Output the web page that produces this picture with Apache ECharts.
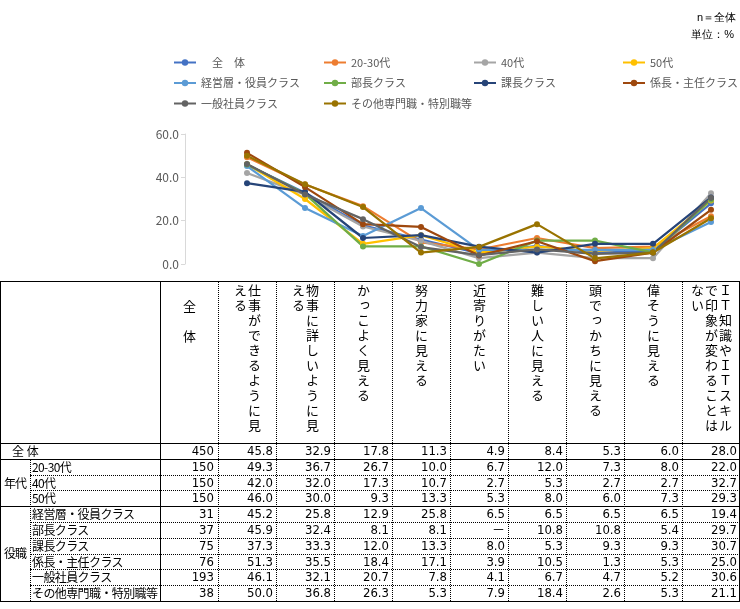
<!DOCTYPE html>
<html><head><meta charset="utf-8">
<script src="https://cdn.jsdelivr.net/npm/echarts@6/dist/echarts.min.js"></script>
<style>
html,body{margin:0;padding:0;background:#fff;width:740px;height:609px;overflow:hidden;}
#chart{position:absolute;left:0;top:0;width:740px;height:281px;}
#tbl{position:absolute;left:0;top:0;width:740px;height:609px;font-family:"Noto Sans CJK JP",sans-serif;font-size:12px;color:#000;pointer-events:none;}
#tbl div{position:absolute;box-sizing:border-box;white-space:nowrap;}
.vh{writing-mode:vertical-rl;display:inline-block;vertical-align:top;height:152px;font-size:13px;line-height:14px;letter-spacing:2px;text-align:start;white-space:normal !important;position:static !important;}
.num{text-align:right;font-family:"Liberation Sans Narrow","DejaVu Sans Condensed","Noto Sans CJK JP",sans-serif;font-size:13px;}
.lab{letter-spacing:-0.6px;}
</style>
</head><body>
<div id="chart"></div>
<div id="tbl"></div>
<script>
// ---- data ----
const questions = ['仕事ができるように見える','物事に詳しいように見える','かっこよく見える','努力家に見える','近寄りがたい','難しい人に見える','頭でっかちに見える','偉そうに見える','ＩＴ知識やＩＴスキルで印象が変わることはない'];
const nHeader = '全　体';
const legendNames = ['　全　体','20-30代','40代','50代','経営層・役員クラス','部長クラス','課長クラス','係長・主任クラス','一般社員クラス','その他専門職・特別職等'];
const rowLabels = ['全 体','20-30代','40代','50代','経営層・役員クラス','部長クラス','課長クラス','係長・主任クラス','一般社員クラス','その他専門職・特別職等'];
const groupNames = ['年代','役職'];
const groupOfRow = [null,0,0,0,1,1,1,1,1,1];
const nValues = [450,150,150,150,31,37,75,76,193,38];
const colors = ['#4472C4','#ED7D31','#A5A5A5','#FFC000','#5B9BD5','#70AD47','#264478','#9E480E','#636363','#997300'];
// 部長クラス「近寄りがたい」は表で「－」(0として描画)
const vZentai  = [45.8,32.9,17.8,11.3,4.9,8.4,5.3,6.0,28.0];
const v2030    = [49.3,36.7,26.7,10.0,6.7,12.0,7.3,8.0,22.0];
const v40      = [42.0,32.0,17.3,10.7,2.7,5.3,2.7,2.7,32.7];
const v50      = [46.0,30.0,9.3,13.3,5.3,8.0,6.0,7.3,29.3];
const vKeiei   = [45.2,25.8,12.9,25.8,6.5,6.5,6.5,6.5,19.4];
const vBucho   = [45.9,32.4,8.1,8.1,0,10.8,10.8,5.4,29.7];
const vKacho   = [37.3,33.3,12.0,13.3,8.0,5.3,9.3,9.3,30.7];
const vKakari  = [51.3,35.5,18.4,17.1,3.9,10.5,1.3,5.3,25.0];
const vIppan   = [46.1,32.1,20.7,7.8,4.1,6.7,4.7,5.2,30.6];
const vSonota  = [50.0,36.8,26.3,5.3,7.9,18.4,2.6,5.3,21.1];
const dashCells = [[5,4]]; // [row, col] shown as －
const values = [vZentai,v2030,v40,v50,vKeiei,vBucho,vKacho,vKakari,vIppan,vSonota];
const yTicks = [0,20,40,60];

// ---- chart ----
const chart = echarts.init(document.getElementById('chart'));
const legendCols = [[0,4,8],[1,5,9],[2,6],[3,7]];
const legendLeft = [173,323,473,622];
chart.setOption({
  animation:false,
  textStyle:{fontFamily:'"Noto Sans CJK JP", sans-serif'},
  color:colors,
  legend: legendCols.map((idx,c)=>({
    orient:'vertical', left:legendLeft[c], top:57, padding:0, itemGap:9.5, itemWidth:22, itemHeight:8,
    data: idx.map(i=>legendNames[i]),
    textStyle:{color:'#595959', fontSize:11}
  })),
  graphic:[
    {type:'text', right:4, top:12, style:{text:'n＝全体', fontSize:11, fill:'#000', font:'11px "Noto Sans CJK JP"'}},
    {type:'text', right:6, top:29, style:{text:'単位：%', fontSize:11, fill:'#000', font:'11px "Noto Sans CJK JP"'}}
  ],
  grid:{left:218, right:0, top:134, bottom:17},
  xAxis:{type:'category', data:questions, boundaryGap:true, show:false},
  yAxis:{type:'value', min:yTicks[0], max:yTicks[yTicks.length-1], interval:yTicks[1]-yTicks[0], offset:33,
    axisLine:{show:true, lineStyle:{color:'#d9d9d9', width:1}},
    axisTick:{show:true, length:4, lineStyle:{color:'#d9d9d9'}},
    axisLabel:{formatter:v=>v.toFixed(1), color:'#595959', fontSize:12, margin:6},
    splitLine:{show:false}},
  series: values.map((d,i)=>({
    name:legendNames[i], type:'line', data:d, symbol:'circle', symbolSize:6,
    lineStyle:{width:2.25, color:colors[i]}, itemStyle:{color:colors[i]}
  }))
});

// ---- table (layout) ----
const T = document.getElementById('tbl');
const tblTop = 281, hdrBottom = 443, rowH = 15.8, tblW = 740;
const colX = [0,30,160]; for(let k=0;k<=questions.length;k++) colX.push(218+58*k);
const rowTop = r => hdrBottom + r*rowH;
const tblBottom = rowTop(rowLabels.length);
function box(l,t,w,h,css,html,cls){const d=document.createElement('div');d.style.left=l+'px';d.style.top=t+'px';d.style.width=w+'px';d.style.height=h+'px';if(css)d.style.cssText+=css;if(cls)d.className=cls;if(html!==undefined)d.innerHTML=html;T.appendChild(d);return d;}
const SOLID='1px solid #000', DOT='1px dotted #000';
function hline(x1,x2,y,st){box(x1,Math.round(y),x2-x1,1,'border-top:'+st);}
function vline(x,y1,y2,st){box(x,y1,1,y2-y1,'border-left:'+st);}
// header texts
box(colX[2],tblTop+19,colX[3]-colX[2],140,'text-align:center','<div class="vh" style="height:130px">'+nHeader+'</div>');
questions.forEach((q,j)=>box(colX[3+j],tblTop+3,58,156,'text-align:center','<div class="vh">'+q+'</div>'));
// rows
rowLabels.forEach((lab,r)=>{
  const g=groupOfRow[r], y=rowTop(r);
  const base='line-height:'+rowH+'px;';
  if(g===null) box(12,y,colX[2]-12,rowH,base,lab);
  else {
    box(colX[1]+2,y,colX[2]-colX[1]-2,rowH,base,lab,'lab');
    if(groupOfRow[r-1]!==g){
      const span=groupOfRow.filter(x=>x===g).length;
      box(0,y,colX[1],span*rowH,'text-align:center;letter-spacing:-1px;line-height:'+(span*rowH)+'px',groupNames[g]);
    }
  }
  box(colX[2],y,colX[3]-colX[2]-4,rowH,base,String(nValues[r]),'num');
  values[r].forEach((v,j)=>{
    const isDash = dashCells.some(c=>c[0]===r&&c[1]===j);
    box(colX[3+j],y,colX[4+j]-colX[3+j]-3,rowH,base,isDash?'－':v.toFixed(1),'num');
  });
  const last = (r===rowLabels.length-1) || g===null || groupOfRow[r+1]!==g;
  if(r<rowLabels.length-1){ if(last) hline(0,tblW,rowTop(r+1),SOLID); else hline(colX[1],tblW,rowTop(r+1),DOT); }
});
// grid lines
hline(0,tblW,hdrBottom,SOLID);
for(let k=3;k<colX.length-1;k++) vline(colX[k],tblTop,tblBottom,DOT);
vline(colX[2],tblTop,tblBottom,SOLID);
vline(colX[1],rowTop(1),tblBottom,DOT);
box(0,tblTop,tblW,Math.round(tblBottom-tblTop)+1,'border:'+SOLID);
</script>
</body></html>
